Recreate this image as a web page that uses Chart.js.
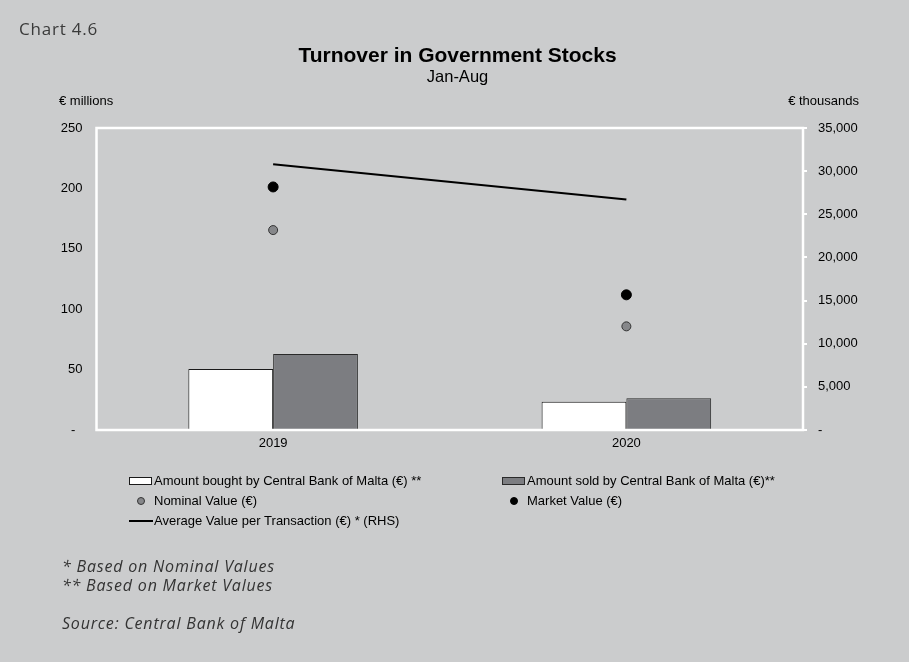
<!DOCTYPE html>
<html>
<head>
<meta charset="utf-8">
<title>Turnover in Government Stocks</title>
<script src="https://cdn.jsdelivr.net/npm/chart.js@4.4.0/dist/chart.umd.min.js"></script>
<style>
    body { margin: 0; background: #cbcccd; }
    canvas { display: block; }
</style>
</head>
<body>
<canvas id="turnoverChart" width="909" height="662"></canvas>
<script>
// Turnover in Government Stocks, Jan-Aug
const years = ['2019', '2020'];
const amountBought = [50.4, 23.3];          // € millions
const amountSold = [62.9, 26.3];            // € millions
const nominalValue = [165.5, 85.8];         // € millions
const marketValue = [201.2, 111.9];         // € millions
const avgPerTransaction = [30800, 26700];   // € thousands (RHS)

const leftTicks = [0, 50, 100, 150, 200, 250];
const rightTicks = [0, 5000, 10000, 15000, 20000, 25000, 30000, 35000];

const chartLabel = 'Chart 4.6';
const chartTitle = 'Turnover in Government Stocks';
const chartSubtitle = 'Jan-Aug';
const leftUnit = '€ millions';
const rightUnit = '€ thousands';
const footnotes = ['* Based on Nominal Values', '** Based on Market Values'];
const sourceNote = 'Source: Central Bank of Malta';

const SANS = '"Liberation Sans", Arial, sans-serif';
const BOOK = '"Open Sans", "Noto Sans", sans-serif';

Chart.defaults.font.family = SANS;
Chart.defaults.font.size = 13;
Chart.defaults.color = '#000';

// white frame round the plot area, drawn on top of the bars
const framePlugin = {
    id: 'frame',
    afterDraw(chart) {
        const { ctx, chartArea: a } = chart;
        ctx.save();
        ctx.strokeStyle = '#fff';
        ctx.lineWidth = 2.5;
        ctx.strokeRect(a.left, a.top, a.right - a.left, a.bottom - a.top);
        ctx.restore();
    }
};

// titles, unit labels, legend and notes
const textPlugin = {
    id: 'texts',
    afterDraw(chart) {
        const ctx = chart.ctx;
        ctx.save();
        ctx.textBaseline = 'middle';

        ctx.fillStyle = '#3a3a3a';
        ctx.font = '17px ' + BOOK;
        ctx.textAlign = 'left';
        ctx.letterSpacing = '0.8px';
        ctx.fillText(chartLabel, 19, 30);
        ctx.letterSpacing = '0px';

        ctx.fillStyle = '#000';
        ctx.textAlign = 'center';
        ctx.font = 'bold 21px ' + SANS;
        ctx.fillText(chartTitle, 457.5, 56);
        ctx.font = '16.5px ' + SANS;
        ctx.fillText(chartSubtitle, 457.5, 77);

        ctx.font = '13px ' + SANS;
        ctx.textAlign = 'left';
        ctx.fillText(leftUnit, 59, 101);
        ctx.textAlign = 'right';
        ctx.fillText(rightUnit, 859, 101);

        // legend: two columns, three rows
        const slots = [[129, 481], [502, 481], [129, 501], [502, 501], [129, 521]];
        ctx.font = '13px ' + SANS;
        ctx.textAlign = 'left';
        chart.data.datasets.forEach((ds, i) => {
            const [x, y] = slots[i];
            if (ds.type === 'bar' || !ds.type) {
                ctx.fillStyle = ds.backgroundColor;
                ctx.fillRect(x, y - 3.5, 23, 7);
                ctx.strokeStyle = ds.borderColor;
                ctx.lineWidth = 1;
                ctx.strokeRect(x + 0.5, y - 3.5, 22, 7);
            } else if (ds.showLine === false) {
                ctx.beginPath();
                ctx.arc(x + 12, y, 3.5, 0, Math.PI * 2);
                ctx.fillStyle = ds.pointBackgroundColor;
                ctx.fill();
                ctx.strokeStyle = ds.pointBorderColor;
                ctx.lineWidth = 1;
                ctx.stroke();
            } else {
                ctx.beginPath();
                ctx.moveTo(x, y);
                ctx.lineTo(x + 24, y);
                ctx.strokeStyle = ds.borderColor;
                ctx.lineWidth = 2;
                ctx.stroke();
            }
            ctx.fillStyle = '#000';
            ctx.fillText(ds.label, x + 25, y);
        });

        ctx.fillStyle = '#333';
        ctx.font = 'italic 16px ' + BOOK;
        ctx.letterSpacing = '0.8px';
        ctx.fillText(footnotes[0], 62, 567);
        ctx.fillText(footnotes[1], 62, 586);
        ctx.fillText(sourceNote, 62, 624);
        ctx.restore();
    }
};

new Chart(document.getElementById('turnoverChart'), {
    type: 'bar',
    data: {
        labels: years,
        datasets: [
            {
                label: 'Amount bought by Central Bank of Malta (€) **',
                data: amountBought,
                backgroundColor: '#ffffff',
                borderColor: '#1a1a1a',
                borderWidth: 1,
                yAxisID: 'y',
                order: 3
            },
            {
                label: 'Amount sold by Central Bank of Malta (€)**',
                data: amountSold,
                backgroundColor: '#7c7d81',
                borderColor: '#2a2a2a',
                borderWidth: 1,
                yAxisID: 'y',
                order: 3
            },
            {
                type: 'line',
                label: 'Nominal Value (€)',
                data: nominalValue,
                showLine: false,
                pointRadius: 4.5,
                pointBackgroundColor: '#86878a',
                pointBorderColor: '#333',
                pointBorderWidth: 1,
                yAxisID: 'y',
                order: 1
            },
            {
                type: 'line',
                label: 'Market Value (€)',
                data: marketValue,
                showLine: false,
                pointRadius: 5,
                pointBackgroundColor: '#000',
                pointBorderColor: '#000',
                pointBorderWidth: 1,
                yAxisID: 'y',
                order: 1
            },
            {
                type: 'line',
                label: 'Average Value per Transaction (€) * (RHS)',
                data: avgPerTransaction,
                borderColor: '#000',
                borderWidth: 2,
                pointRadius: 0,
                yAxisID: 'y2',
                order: 2
            }
        ]
    },
    options: {
        responsive: false,
        animation: false,
        categoryPercentage: 0.48,
        barPercentage: 1.0,
        layout: { padding: { top: 128, left: 0, right: 0, bottom: 0 } },
        plugins: {
            legend: { display: false },
            tooltip: { enabled: false }
        },
        scales: {
            x: {
                grid: { display: false, drawTicks: false },
                border: { display: false },
                ticks: { padding: 6, color: '#000' },
                afterFit: (s) => { s.height = 232; }
            },
            y: {
                position: 'left',
                min: 0,
                max: 250,
                afterBuildTicks: (s) => { s.ticks = leftTicks.map(v => ({ value: v })); },
                grid: { display: false, drawTicks: false },
                border: { display: false },
                ticks: {
                    padding: 14,
                    callback: (v) => v === 0 ? '-  ' : String(v)
                },
                afterFit: (s) => { s.width = 96.5; }
            },
            y2: {
                position: 'right',
                min: 0,
                max: 35000,
                afterBuildTicks: (s) => { s.ticks = rightTicks.map(v => ({ value: v })); },
                grid: {
                    drawOnChartArea: false,
                    drawTicks: true,
                    tickLength: 4,
                    color: '#fff',
                    lineWidth: 2
                },
                border: { display: false },
                ticks: {
                    padding: 11,
                    callback: (v) => v === 0 ? '-' : v.toLocaleString('en-US')
                },
                afterFit: (s) => { s.width = 106; }
            }
        }
    },
    plugins: [framePlugin, textPlugin]
});
</script>
</body>
</html>
